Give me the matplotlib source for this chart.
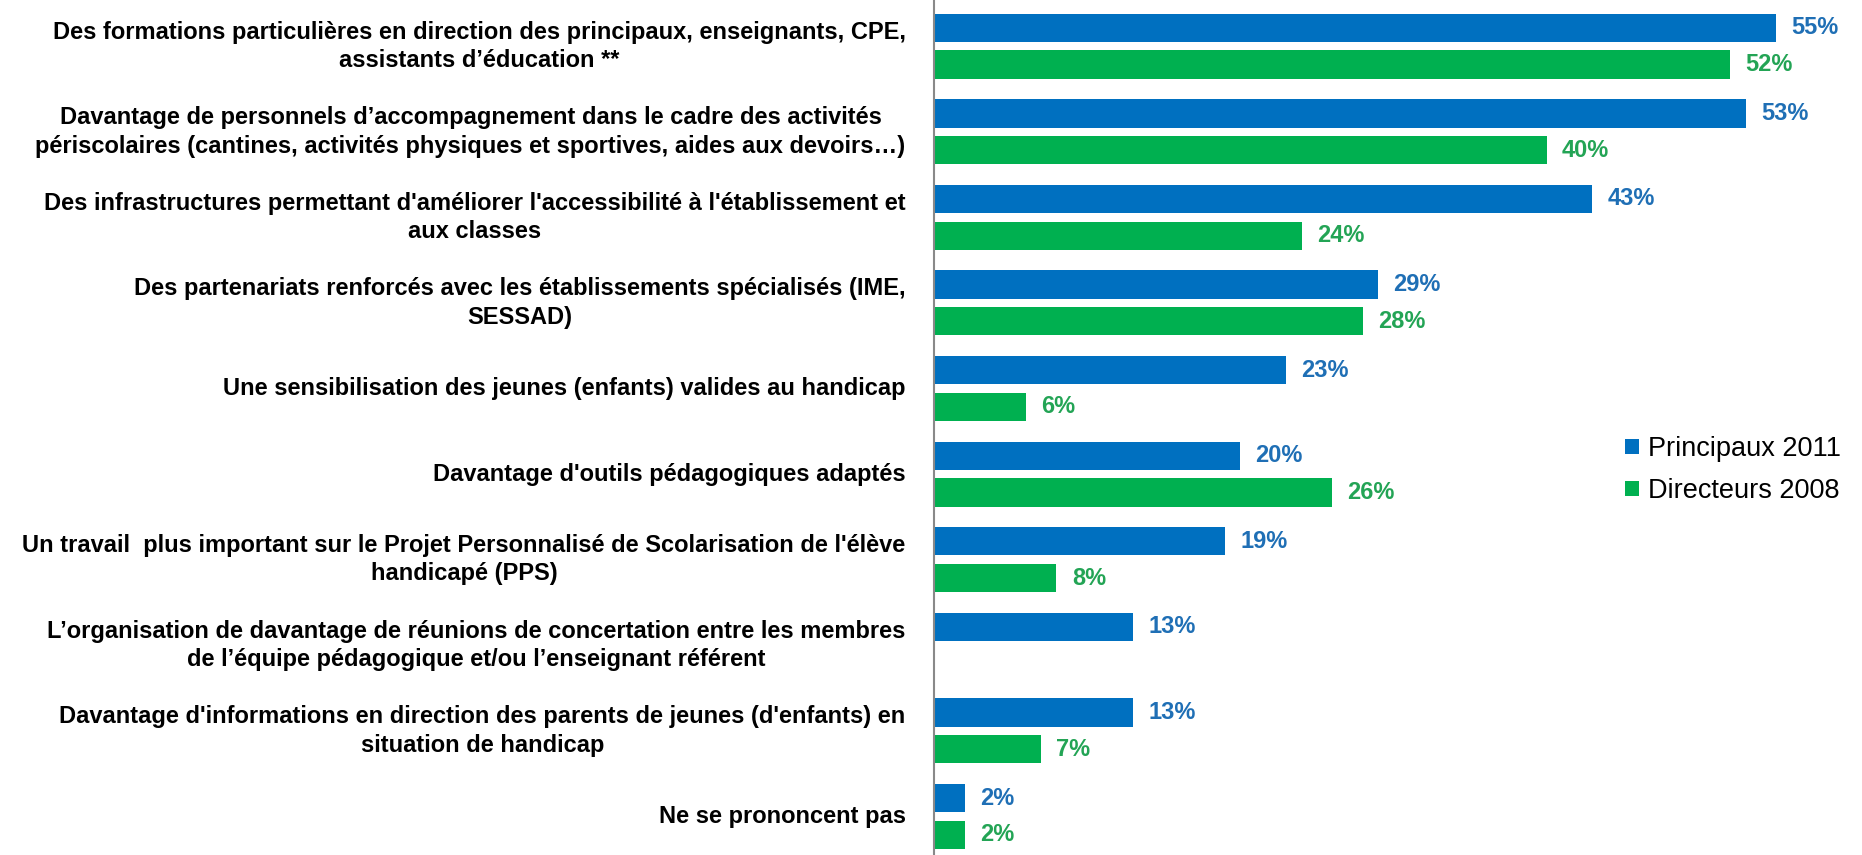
import numpy as np
import matplotlib.pyplot as plt
from matplotlib import font_manager

categories = [
    "Des formations particulières en direction des principaux, enseignants, CPE,\nassistants d\u2019éducation **",
    "Davantage de personnels d\u2019accompagnement dans le cadre des activités\npériscolaires (cantines, activités physiques et sportives, aides aux devoirs\u2026)",
    "Des infrastructures permettant d'améliorer l'accessibilité à l'établissement et\naux classes",
    "Des partenariats renforcés avec les établissements spécialisés (IME,\nSESSAD)",
    "Une sensibilisation des jeunes (enfants) valides au handicap",
    "Davantage d'outils pédagogiques adaptés",
    "Un travail  plus important sur le Projet Personnalisé de Scolarisation de l'élève\nhandicapé (PPS)",
    "L\u2019organisation de davantage de réunions de concertation entre les membres\nde l\u2019équipe pédagogique et/ou l\u2019enseignant référent",
    "Davantage d'informations en direction des parents de jeunes (d'enfants) en\nsituation de handicap",
    "Ne se prononcent pas",
]
principaux_2011 = [55, 53, 43, 29, 23, 20, 19, 13, 13, 2]
directeurs_2008 = [52, 40, 24, 28, 6, 26, 8, np.nan, 7, 2]
series_names = ["Principaux 2011", "Directeurs 2008"]

blue = "#0070C0"
green = "#00B050"

names = {f.name for f in font_manager.fontManager.ttflist}
narrow = "Liberation Sans Narrow" if "Liberation Sans Narrow" in names else "Liberation Sans"

fig = plt.figure(figsize=(18.62, 8.55), dpi=100)
ax = fig.add_axes([0.5016, 0.0, 0.4984, 1.0])

y = np.arange(len(categories))
h = 0.33
off = 0.215
ax.barh(y - off, principaux_2011, height=h, color=blue, label=series_names[0])
ax.barh(y + off, directeurs_2008, height=h, color=green, label=series_names[1])

for yi, v in zip(y, principaux_2011):
    ax.text(v + 1.0, yi - off, f"{v:.0f}%", va="center", ha="left", color="#1F6FB5",
            fontsize=17, fontweight="bold", family=narrow)
for yi, v in zip(y, directeurs_2008):
    if np.isnan(v):
        continue
    ax.text(v + 1.0, yi + off, f"{v:.0f}%", va="center", ha="left", color="#23A455",
            fontsize=17, fontweight="bold", family=narrow)

for yi, lab in zip(y, categories):
    ax.annotate(lab, xy=(0, yi), xycoords=("axes fraction", "data"), xytext=(-20.5, 0),
                textcoords="offset points", ha="right", va="center", multialignment="center",
                fontsize=17, fontweight="bold", family=narrow, linespacing=1.3)

ax.set_xlim(0, 60.6)
ax.set_ylim(9.45, -0.54)
ax.set_xticks([])
ax.set_yticks([])
for s in ["top", "right", "bottom"]:
    ax.spines[s].set_visible(False)
ax.spines["left"].set_color("#898989")
ax.spines["left"].set_linewidth(1.5)

ax.legend(loc="center left", bbox_to_anchor=(0.745, 0.45), frameon=False,
          prop={"family": "Liberation Sans", "size": 19.5}, handlelength=0.5, handleheight=0.5,
          handletextpad=0.35, labelspacing=0.6, borderpad=0, borderaxespad=0)

fig.savefig("out.png", dpi=100)
